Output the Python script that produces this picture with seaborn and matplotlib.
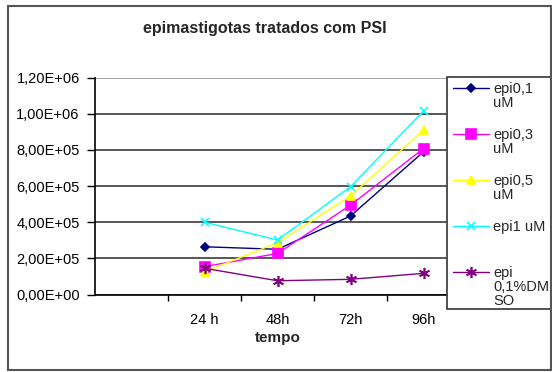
import numpy as np
import pandas as pd
import matplotlib
matplotlib.use("Agg")
import matplotlib.pyplot as plt
import seaborn as sns
from matplotlib.ticker import FuncFormatter, FixedLocator
from matplotlib.patches import Rectangle
from matplotlib.text import Annotation

# ---- data ----
categories = ["", "24 h", "48h", "72h", "96h"]
times = ["24 h", "48h", "72h", "96h"]
epi_01 = [2.64e5, 2.50e5, 4.34e5, 7.89e5]
epi_03 = [1.54e5, 2.27e5, 4.94e5, 8.07e5]
epi_05 = [1.26e5, 2.86e5, 5.44e5, 9.10e5]
epi_1 = [4.00e5, 3.01e5, 5.96e5, 1.015e6]
epi_dmso = [1.45e5, 0.76e5, 0.84e5, 1.17e5]
series_names = ["epi0,1 uM", "epi0,3 uM", "epi0,5 uM", "epi1 uM", "epi 0,1%DMSO"]
legend_first = ["epi0,1", "epi0,3", "epi0,5", "epi1 uM", "epi"]
legend_rest = ["uM", "uM", "uM", "", "0,1%DM\nSO"]
y_ticks = [0, 2e5, 4e5, 6e5, 8e5, 1.0e6, 1.2e6]
title = "epimastigotas tratados com PSI"
x_label = "tempo"

colors = ["#000080", "#FF00FF", "#FFFF00", "#00FFFF", "#800080"]
markers = ["D", "s", "^", "x", (6, 2, 0)]
msizes = [4.5, 6.5, 6, 6, 8]

values = [epi_01, epi_03, epi_05, epi_1, epi_dmso]
rows = []
for name, vals in zip(series_names, values):
    for t, v in zip(times, vals):
        rows.append({"series": name, "pos": categories.index(t), "value": v})
df = pd.DataFrame(rows)

sns.set_style("white")
plt.rcParams["font.family"] = ["Liberation Sans", "DejaVu Sans"]

W, H = 552, 372
fig = plt.figure(figsize=(W / 100, H / 100), dpi=100)
ax = fig.add_axes([95 / W, 1 - 294.5 / H, 365 / W, 217 / H])

for name, c, m, ms in zip(series_names, colors, markers, msizes):
    sub = df[df["series"] == name]
    sns.lineplot(data=sub, x="pos", y="value", color=c, marker=m, markersize=ms,
                 markeredgecolor=c, markeredgewidth=1.2, linewidth=1.0,
                 ax=ax, legend=False, errorbar=None, sort=False)

ax.set_xlim(-0.5, len(categories) - 0.5)
ax.set_ylim(y_ticks[0], y_ticks[-1])
ax.set_yticks(y_ticks)
ax.yaxis.set_major_formatter(FuncFormatter(lambda v, _: f"{v:.2E}".replace(".", ",")))
ax.set_xticks(range(len(categories)))
ax.set_xticklabels(categories)
ax.xaxis.set_minor_locator(FixedLocator([i + 0.5 for i in range(len(categories))]))
ax.tick_params(axis="x", which="major", length=0, pad=13.5, labelsize=10.5, colors="black")
ax.tick_params(axis="x", which="minor", length=4, width=1, direction="out", color="black", bottom=True)
ax.tick_params(axis="y", length=5.5, width=1, direction="out", pad=5.5, labelsize=10.5,
               colors="black", left=True)
ax.yaxis.grid(True, color="#4a4a4a", linewidth=1.3)
ax.set_axisbelow(True)
gl = ax.get_ygridlines()
if gl:
    gl[-1].set_color("#9a9a9a")
for s in ["top", "right"]:
    ax.spines[s].set_visible(False)
for s in ["left", "bottom"]:
    ax.spines[s].set_color("black")
    ax.spines[s].set_linewidth(1.2)
ax.set_xlabel(x_label, fontsize=11, fontweight="bold", labelpad=3)
ax.set_ylabel("")

fig.text(265 / W, 1 - 29 / H, title, ha="center", va="center", fontsize=11.5, fontweight="bold")

# legend box
box = Rectangle((446.5 / W, 1 - 309 / H), (551 - 446.5) / W, (309 - 77) / H,
                transform=fig.transFigure, facecolor="white", edgecolor="#333333",
                linewidth=1.2, zorder=4)
fig.add_artist(box)

handles = ax.get_lines()[:len(series_names)]
leg = fig.legend(handles, legend_first, loc="upper left",
                 bbox_to_anchor=(453 / W, 1 - 82 / H), bbox_transform=fig.transFigure,
                 frameon=False, borderpad=0, borderaxespad=0, handlelength=2.5,
                 handletextpad=0.25, labelspacing=2.2, fontsize=10.5)
leg.set_zorder(5)
for txt, rest in zip(leg.get_texts(), legend_rest):
    if rest:
        a = Annotation(rest, xy=(0, 0), xycoords=txt, xytext=(0, 0),
                       textcoords="offset points", ha="left", va="top",
                       fontsize=10.5, linespacing=1.0)
        a.set_zorder(6)
        fig.add_artist(a)

# outer border
border = Rectangle((8 / W, 1 - 370 / H), (551 - 8) / W, (370 - 5.5) / H,
                   transform=fig.transFigure, fill=False, edgecolor="#555555",
                   linewidth=1.5, zorder=10)
fig.add_artist(border)

fig.savefig("out.png", dpi=100)
